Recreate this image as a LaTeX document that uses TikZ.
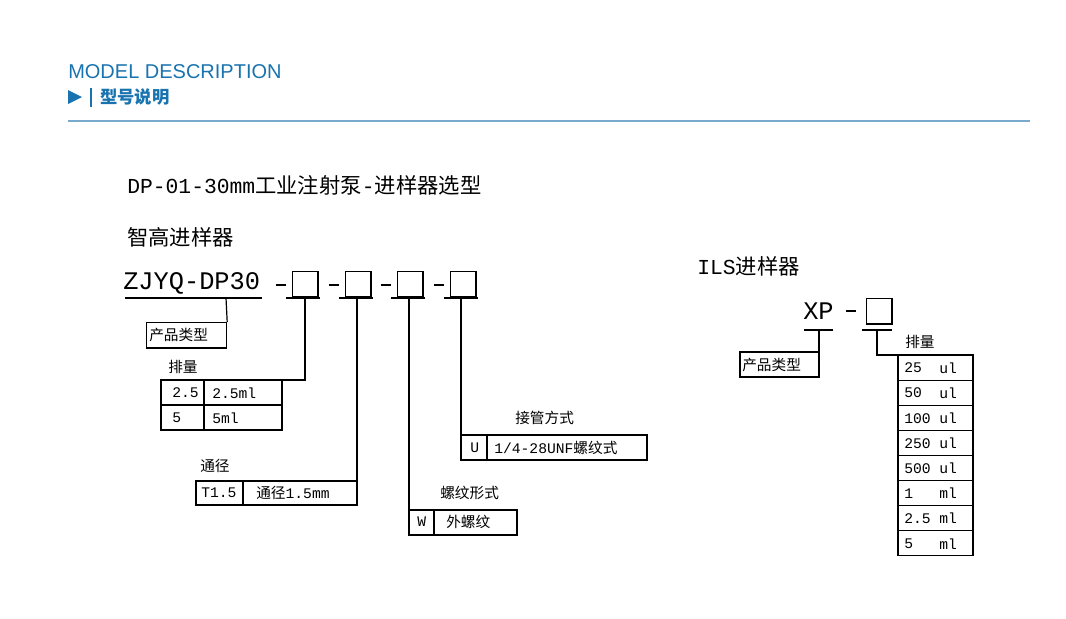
\documentclass[tikz,border=0pt]{standalone}
\usepackage{fontspec}
\setmainfont{Liberation Mono}
\newfontfamily\cjk{Noto Sans CJK SC}
\newfontfamily\hdr{Liberation Sans}
\definecolor{hblue}{RGB}{25,115,175}
\definecolor{lblue}{RGB}{120,170,205}
\tikzset{
 lab/.style={anchor=west,inner sep=0pt,font=\fontsize{11}{11}\selectfont},
 cell/.style={draw,line width=0.9pt},
 ln/.style={line width=0.9pt},
 sbox/.style={draw,line width=0.9pt,minimum width=19pt,minimum height=19pt,inner sep=0pt},
}
\newcommand{\C}[1]{{\cjk #1}}
\begin{document}
\begin{tikzpicture}[x=0.75pt,y=-0.75pt]
\useasboundingbox (0,0) rectangle (1066,618);
% header
\node[anchor=base west,inner sep=0pt,text=hblue,font=\hdr\fontsize{15}{15}\selectfont] (h1) at (68,78) {MODEL DESCRIPTION};
\fill[hblue] (68,90) -- (82,97) -- (68,104) -- cycle;
\draw[hblue,line width=1.6pt] (91,88) -- (91,107);
\node[anchor=west,inner sep=0pt,text=hblue,font=\cjk\bfseries\fontsize{13}{13}\selectfont] (h2) at (100,97) {型号说明};
\draw[lblue,line width=1pt] (68,121) -- (1030,121);
% titles
\node[anchor=west,inner sep=0pt,font=\fontsize{16}{16}\selectfont] (t1) at (127,185) {DP-01-30mm\C{工业注射泵}-\C{进样器选型}};
\node[anchor=west,inner sep=0pt,font=\cjk\fontsize{16}{16}\selectfont] (t2) at (127,237) {智高进样器};
\node[anchor=west,inner sep=0pt,font=\fontsize{19}{19}\selectfont] (zj) at (123,283) {ZJYQ-DP30};
\draw[ln] (125,298) -- (262,298);
% dashes and boxes
\foreach \x/\n in {292/b1,345/b2,397/b3,450/b4}{
  \draw[ln] (\x-16,285) -- (\x-6,285);
  \node[sbox,anchor=north west] (\n) at (\x,271) {};
  \draw[ln] (\x-6,298) -- (\x+28,298);
}
% product type
\node[cell,anchor=north west,minimum width=60pt,minimum height=19pt,inner sep=0pt] (pt) at (146,322) {};
\node[anchor=west,inner sep=0pt,font=\cjk\fontsize{11}{11}\selectfont] at (149,335) {产品类型};
\draw[ln] (226,298) -- (pt.north east);
% 排量
\node[lab,font=\cjk\fontsize{11}{11}\selectfont] (pl) at (168,367) {排量};
\draw[cell] (161,380) rectangle (282,430);
\draw[ln] (161,405) -- (282,405); \draw[ln] (204,380) -- (204,430);
\node[lab] at (172,393) {2.5}; \node[lab] at (212,393) {2.5ml};
\node[lab] at (172,418) {5}; \node[lab] at (212,418) {5ml};
\coordinate (pa) at (282,380);
\draw[ln] (305,298) |- (pa);
% 通径
\node[lab,font=\cjk\fontsize{11}{11}\selectfont] at (200,466) {通径};
\draw[cell] (196,481) rectangle (357,505); \draw[ln] (243,481) -- (243,505);
\node[lab] at (201,493) {T1.5}; \node[lab] at (256,493) {\C{通径}1.5mm};
\coordinate (ta) at (357,481);
\draw[ln] (357,298) -- (ta);
% 螺纹形式
\node[lab,font=\cjk\fontsize{11}{11}\selectfont] at (440,493) {螺纹形式};
\draw[cell] (409,510) rectangle (517,535); \draw[ln] (434,510) -- (434,535);
\node[lab] at (417,522) {W}; \node[lab,font=\cjk\fontsize{11}{11}\selectfont] at (446,522) {外螺纹};
\coordinate (wa) at (409,510);
\draw[ln] (409,298) -- (wa);
% 接管方式
\node[lab,font=\cjk\fontsize{11}{11}\selectfont] at (515,418) {接管方式};
\draw[cell] (461,435) rectangle (647,460); \draw[ln] (487,435) -- (487,460);
\node[lab] at (470,448) {U}; \node[lab] at (494,448) {1/4-28UNF\C{螺纹式}};
\coordinate (ua) at (461,435);
\draw[ln] (461,298) -- (ua);
% right part
\node[anchor=west,inner sep=0pt,font=\fontsize{16}{16}\selectfont] (ils) at (697,266) {ILS\C{进样器}};
\node[anchor=west,inner sep=0pt,font=\fontsize{19}{19}\selectfont] (xp) at (803,311) {XP};
\draw[ln] (846,311) -- (856,311);
\node[sbox,anchor=north west] (xb) at (866,298) {};
\draw[ln] (804,330) -- (833,330);
\draw[ln] (862,330) -- (892,330);
\draw[cell] (740,352) rectangle (819,377);
\node[anchor=west,inner sep=0pt,font=\cjk\fontsize{11}{11}\selectfont] at (742,365) {产品类型};
\coordinate (xpa) at (819,352);
\draw[ln] (819,330) -- (xpa);
\node[lab,font=\cjk\fontsize{11}{11}\selectfont] at (905,342) {排量};
\coordinate (tt) at (898,355);
\draw[ln] (877,330) |- (tt);
\foreach \a/\b [count=\i from 0] in {25/ul,50/ul,100/ul,250/ul,500/ul,1/ml,2.5/ml,5/ml}{
  \draw[cell] (898,355+\i*25.1) rectangle (973,355+\i*25.1+25.1);
  \node[lab] at (904,368+\i*25.1) {\a};
  \node[lab] at (939,368+\i*25.1) {\b};
}
\end{tikzpicture}
\end{document}
